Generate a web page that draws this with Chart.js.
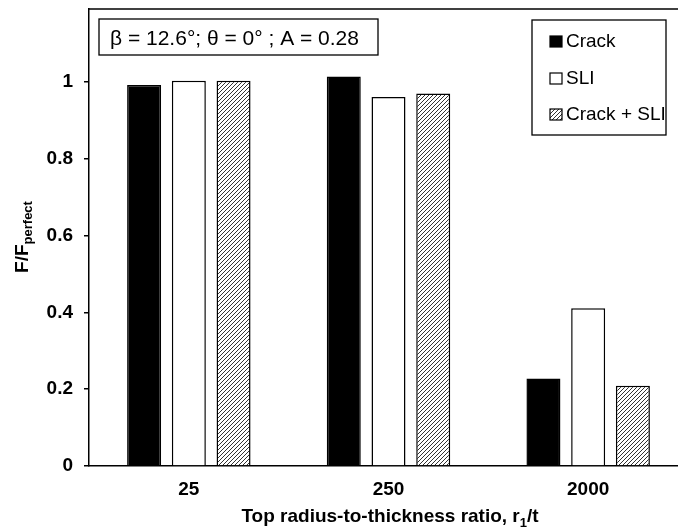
<!DOCTYPE html>
<html lang="en">
<head>
  <meta charset="UTF-8" />
  <title>F/Fperfect vs r1/t</title>
  <style>
    html, body { margin: 0; padding: 0; background: white; overflow: hidden; }
    #wrap { width: 700px; height: 527px; }
  </style>
</head>
<body>
  <div id="wrap"><canvas id="chart" width="700" height="527"></canvas></div>

  <script src="https://cdn.jsdelivr.net/npm/chart.js"></script>
  <script>
    // data
    const categories = ['25', '250', '2000'];
    const crack = [0.992, 1.014, 0.228];
    const sli = [1.003, 0.961, 0.411];
    const crackSli = [1.003, 0.970, 0.209];
    const yTicks = [0, 0.2, 0.4, 0.6, 0.8, 1];

    const FONT = '"Liberation Sans", Arial, sans-serif';

    // diagonal hatch for Crack + SLI
    function hatch() {
      const c = document.createElement('canvas');
      c.width = 4; c.height = 4;
      const g = c.getContext('2d');
      g.fillStyle = '#fff';
      g.fillRect(0, 0, 4, 4);
      g.strokeStyle = '#333';
      g.lineWidth = 1;
      g.beginPath();
      g.moveTo(0, 4); g.lineTo(4, 0);
      g.moveTo(-1, 1); g.lineTo(1, -1);
      g.moveTo(3, 5); g.lineTo(5, 3);
      g.stroke();
      return g.createPattern(c, 'repeat');
    }
    const hatchFill = hatch();

    // legend, annotation box, axis titles with subscripts
    const extras = {
      id: 'extras',
      afterDraw(chart) {
        const ctx = chart.ctx;
        const a = chart.chartArea;
        ctx.save();

        // top border of plot box
        ctx.strokeStyle = '#000';
        ctx.lineWidth = 1.5;
        ctx.beginPath();
        ctx.moveTo(a.left, a.top);
        ctx.lineTo(a.right, a.top);
        ctx.stroke();

        // annotation box
        ctx.lineWidth = 1.3;
        ctx.strokeRect(99, 19, 279, 36);
        ctx.fillStyle = '#000';
        ctx.font = '21px ' + FONT;
        ctx.textBaseline = 'alphabetic';
        ctx.textAlign = 'left';
        ctx.fillText('β = 12.6°; θ = 0° ; A = 0.28', 110, 45);

        // legend
        ctx.strokeRect(532, 20, 134, 115);
        ctx.font = '19px ' + FONT;
        const rows = [47, 84, 120];
        chart.data.datasets.forEach((ds, i) => {
          const y = rows[i];
          ctx.fillStyle = ds.backgroundColor;
          ctx.fillRect(550, y - 11, 12, 11);
          ctx.lineWidth = 1.2;
          ctx.strokeRect(550, y - 11, 12, 11);
          ctx.fillStyle = '#000';
          ctx.fillText(ds.label, 566, y);
        });

        // x title
        const big = 'bold 19px ' + FONT;
        const small = 'bold 13px ' + FONT;
        ctx.font = big;
        const t1 = 'Top radius-to-thickness ratio, r';
        const t3 = '/t';
        const w1 = ctx.measureText(t1).width;
        const w3 = ctx.measureText(t3).width;
        ctx.font = small;
        const w2 = ctx.measureText('1').width;
        const x = 390 - (w1 + w2 + w3) / 2;
        ctx.font = big;
        ctx.fillText(t1, x, 522);
        ctx.font = small;
        ctx.fillText('1', x + w1, 527);
        ctx.font = big;
        ctx.fillText(t3, x + w1 + w2, 522);

        // y title
        ctx.translate(28, 237);
        ctx.rotate(-Math.PI / 2);
        ctx.font = big;
        const m1 = ctx.measureText('F/F').width;
        ctx.font = small;
        const m2 = ctx.measureText('perfect').width;
        const sx = -(m1 + m2) / 2;
        ctx.font = big;
        ctx.fillText('F/F', sx, 0);
        ctx.font = small;
        ctx.fillText('perfect', sx + m1, 4);

        ctx.restore();
      }
    };

    new Chart(document.getElementById('chart'), {
      type: 'bar',
      data: {
        labels: categories,
        datasets: [
          { label: 'Crack', data: crack, backgroundColor: '#000' },
          { label: 'SLI', data: sli, backgroundColor: '#fff' },
          { label: 'Crack + SLI', data: crackSli, backgroundColor: hatchFill }
        ].map(d => Object.assign(d, {
          borderColor: '#000',
          borderWidth: 1.5,
          categoryPercentage: 0.672,
          barPercentage: 0.76
        }))
      },
      options: {
        responsive: false,
        animation: false,
        layout: { padding: { top: 9, right: 12, left: 0, bottom: 0 } },
        plugins: {
          legend: { display: false },
          tooltip: { enabled: false }
        },
        scales: {
          x: {
            grid: { display: false, drawTicks: false },
            border: { color: '#000', width: 1.5 },
            ticks: {
              color: '#000',
              padding: 12,
              font: { family: FONT, size: 19, weight: 'bold' }
            },
            afterFit: s => { s.height = 61; s.paddingLeft = 0; s.paddingRight = 0; }
          },
          y: {
            min: 0,
            max: 1.19,
            afterBuildTicks: s => { s.ticks = yTicks.map(v => ({ value: v })); },
            grid: { drawOnChartArea: false, drawTicks: true, tickLength: 5, color: '#000', lineWidth: 1.5 },
            border: { color: '#000', width: 1.5 },
            ticks: {
              color: '#000',
              padding: 11,
              font: { family: FONT, size: 19, weight: 'bold' },
              callback: v => String(Math.round(v * 10) / 10)
            },
            afterFit: s => { s.width = 89; s.paddingTop = 0; s.paddingBottom = 0; }
          }
        }
      },
      plugins: [extras]
    });
  </script>
</body>
</html>
